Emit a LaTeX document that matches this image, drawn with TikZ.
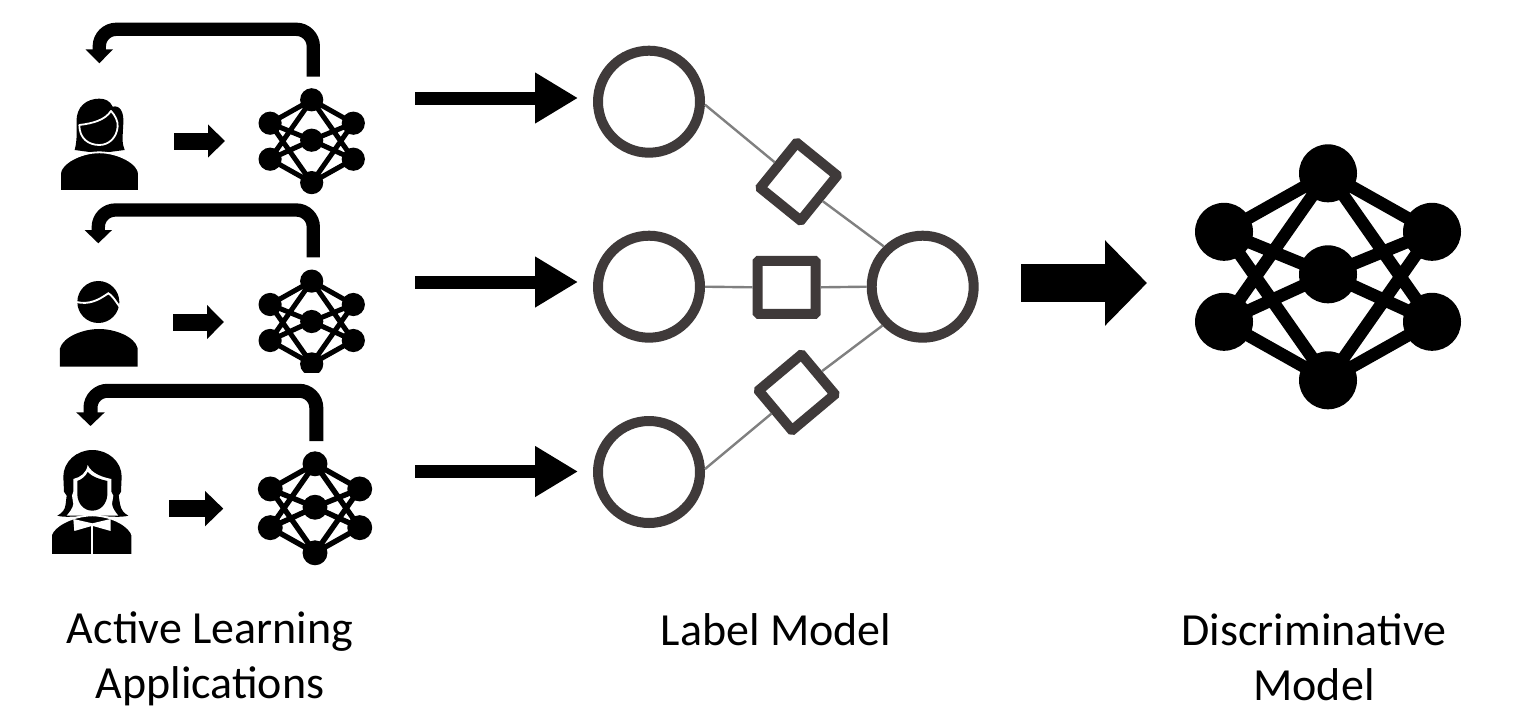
\documentclass[tikz,border=0pt]{standalone}
\usepackage{fontspec}
\setmainfont{Carlito}
\usetikzlibrary{arrows.meta}
\definecolor{ink}{HTML}{3F3A3A}
\tikzset{
  ring/.style={circle,draw=ink,line width=10pt,fill=white,inner sep=0pt,minimum size=102pt},
  factor/.style={rectangle,draw=ink,line width=10pt,fill=white,inner sep=0pt,rounded corners=1pt},
  link/.style={draw=gray,line width=2.4pt},
  dot/.style={circle,fill=black,inner sep=0pt},
  caption/.style={align=center,font=\fontsize{46}{55}\selectfont},
  shape fill/.style={fill=black,draw=white,line width=1.8pt,line join=round},
  block/.style n args={3}{line width=#1pt,draw=black,-{Triangle[length=#2pt,width=#3pt]}},
}
% name, centre x, centre y, scale
\newcommand\netw[4]{%
  \begin{scope}[shift={(#2,#3)},x=#4pt,y=-#4pt]
    \node[dot,minimum size=#4*58pt] (#1t) at (0,-103.5) {};
    \node[dot,minimum size=#4*58pt] (#1b) at (0,103.5) {};
    \node[dot,minimum size=#4*58pt] (#1ul) at (-104,-45) {};
    \node[dot,minimum size=#4*58pt] (#1ur) at (104,-45) {};
    \node[dot,minimum size=#4*58pt] (#1ll) at (-104,45) {};
    \node[dot,minimum size=#4*58pt] (#1lr) at (104,45) {};
    \node[dot,minimum size=#4*58pt] (#1c) at (0,-2.5) {};
    \draw[line width=#4*12.5pt]
      (#1t.center) -- (#1ul.center) (#1t.center) -- (#1ur.center)
      (#1b.center) -- (#1ll.center) (#1b.center) -- (#1lr.center)
      (#1t.center) -- (#1ll.center) (#1t.center) -- (#1lr.center)
      (#1b.center) -- (#1ul.center) (#1b.center) -- (#1ur.center)
      (#1c.center) -- (#1ul.center) (#1c.center) -- (#1ur.center)
      (#1c.center) -- (#1ll.center) (#1c.center) -- (#1lr.center);
  \end{scope}}
\begin{document}
\begin{tikzpicture}[x=1pt,y=-1pt]
\useasboundingbox[fill=white] (0,0) rectangle (1536,710);

% ---- networks
\netw{na}{311.7}{141.2}{0.4}
\begin{scope}
  \clip (240,260) rectangle (390,372);
  \netw{nb}{311.7}{322.5}{0.4}
\end{scope}
\netw{nc}{315}{508.3}{0.43}
\netw{nd}{1328}{276.8}{1}

% ---- person 1
\begin{scope}[shift={(40,10)},x=0.3333pt,y=-0.3333pt]
  \fill (104,420) .. controls (112,390) and (110,360) .. (110,335)
    .. controls (108,290) and (140,266) .. (178,266)
    .. controls (195,266) and (210,272) .. (218,290)
    .. controls (240,285) and (252,305) .. (250,340)
    .. controls (248,380) and (245,400) .. (254,420)
    -- (178,430) -- cycle;
  \path[shape fill] (118,345) .. controls (160,340) and (195,330) .. (213,303)
    .. controls (225,315) and (235,335) .. (233,350)
    .. controls (230,385) and (205,405) .. (178,405)
    .. controls (145,405) and (118,385) .. (118,345) -- cycle;
  \path[shape fill] (60,543) -- (60,490) .. controls (62,460) and (120,427) .. (178,427)
    .. controls (236,427) and (295,460) .. (297,490) -- (297,543) -- cycle;
\end{scope}

% ---- person 2
\begin{scope}[shift={(40,200)},x=0.3333pt,y=-0.3333pt]
  \fill (175,306) circle[radius=63];
  \draw[white,line width=1.9pt] (108,306) .. controls (150,315) and (175,300) .. (205,280)
    .. controls (215,285) and (225,300) .. (240,322);
  \fill (60,500) -- (60,445) .. controls (70,410) and (130,387) .. (177,387)
    .. controls (225,387) and (285,410) .. (293,445) -- (293,500) -- cycle;
\end{scope}

% ---- person 3
\begin{scope}[shift={(40,380)},x=0.3333pt,y=-0.3333pt]
  \fill (70,290) .. controls (70,245) and (110,210) .. (157,210)
    .. controls (205,210) and (245,245) .. (245,290)
    -- (243,335) -- (236,347) -- (240,372)
    .. controls (243,390) and (252,400) .. (265,407)
    .. controls (240,414) and (205,408) .. (157,408)
    .. controls (110,408) and (75,414) .. (52,407)
    .. controls (65,400) and (76,390) .. (77,372) -- (80,347) -- (72,335) -- cycle;
  % white band round the face
  \fill[white] (143,255) .. controls (140,278) and (122,292) .. (100,297)
    -- (100,335) -- (96,347) -- (100,372)
    .. controls (98,385) and (90,395) .. (80,407) -- (235,407)
    .. controls (225,395) and (218,385) .. (216,372)
    -- (220,347) -- (214,335) -- (214,297)
    .. controls (190,292) and (155,282) .. (143,255) -- cycle;
  % face
  \fill (112,303) -- (112,345)
    .. controls (114,372) and (132,392) .. (157,392)
    .. controls (182,392) and (200,372) .. (202,345) -- (202,303)
    .. controls (180,298) and (155,290) .. (143,276)
    .. controls (137,290) and (125,298) .. (112,303) -- cycle;
  \path[shape fill] (33,525) -- (33,465) .. controls (40,440) and (90,408) .. (157,406)
    .. controls (222,408) and (270,440) .. (277,465) -- (277,525) -- cycle;
  \fill[white] (100,417) -- (157,430) -- (212,417) -- (212,453) -- (159,438) -- (155,438) -- (103,453) -- cycle;
  \draw[white,line width=2.2pt] (157,436) -- (157,525);
\end{scope}

% ---- label model
\node[ring] (v1) at (649,101.7) {};
\node[ring] (v2) at (649,286.7) {};
\node[ring] (v3) at (649,472) {};
\node[ring] (r) at (922.7,286.7) {};
\node[factor,minimum width=58pt,minimum height=53pt] (s) at (786.7,287.3) {};
\node[factor,minimum width=52pt,minimum height=58pt,rotate=-39] (d1) at (798.7,181.7) {};
\node[factor,minimum width=56pt,minimum height=52pt,rotate=40] (d3) at (796.7,392.4) {};
\draw[link] (v1.-3) -- (d1.west);
\draw[link] (d1.east) -- (r.134);
\draw[link] (v2.east) -- (s.west);
\draw[link] (s.east) -- (r.west);
\draw[link] (v3.3) -- (d3.west);
\draw[link] (d3.east) -- (r.224);

% ---- big arrows into the label model
\coordinate (a1) at (415,98);
\coordinate (a2) at (415,282);
\coordinate (a3) at (415,471.5);
\draw[block={13}{43}{48},shorten >=15pt] (a1) -- (a1 -| v1.west);
\draw[block={13}{43}{48},shorten >=15pt] (a2) -- (a2 -| v2.west);
\draw[block={13}{43}{48},shorten >=15pt] (a3) -- (a3 -| v3.west);
\coordinate (a4s) at (1021,283);
\coordinate (a4e) at (1147,283);
\draw[block={38}{42}{83}] (a4s) -- (a4e);

% ---- small arrows person -> network
\coordinate (p1) at (174,141);
\coordinate (q1) at (225,141);
\coordinate (p2) at (173.3,322);
\coordinate (q2) at (224,322);
\coordinate (p3) at (169.3,508.6);
\coordinate (q3) at (223.3,508.6);
\draw[block={17}{17}{32}] (p1) -- (q1);
\draw[block={17}{17}{33}] (p2) -- (q2);
\draw[block={17.3}{18.3}{34.3}] (p3) -- (q3);

% ---- feedback loops
\coordinate (l1a) at (313.3,76.7);
\coordinate (l1t) at (99.3,29.3);
\coordinate (l1e) at (99.3,63.3);
\coordinate (l2a) at (313.3,257.3);
\coordinate (l2t) at (98.3,210);
\coordinate (l2e) at (98.3,243.3);
\coordinate (l3a) at (316.3,441);
\coordinate (l3t) at (90.5,390.8);
\coordinate (l3e) at (90.5,426);
\draw[block={13.3}{14}{26.7},rounded corners=17pt] (l1a) |- (l1t) -- (l1e);
\draw[block={13.3}{13.3}{26.7},rounded corners=17pt] (l2a) |- (l2t) -- (l2e);
\draw[block={14}{13.7}{27.7},rounded corners=17pt] (l3a) |- (l3t) -- (l3e);

% ---- captions
\node[caption] (c1) at (210,659) {Active Learning\\Applications};
\node[caption] (c2) at (776,630) {Label Model};
\node[caption] (c3) at (1314,657) {Discriminative\\Model};
\end{tikzpicture}
\end{document}
